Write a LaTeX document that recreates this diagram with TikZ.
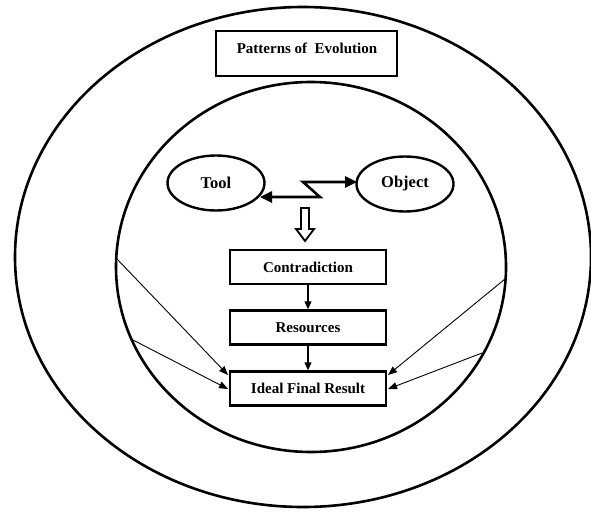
\documentclass[tikz,border=0pt]{standalone}
\usepackage{fontspec}
\setmainfont{Liberation Serif}
\usetikzlibrary{arrows.meta,shapes.geometric}
\begin{document}
\begin{tikzpicture}[x=1pt,y=-1pt,
  ring/.style={line width=2.6pt},
  stepbox/.style={draw,line width=2.4pt,minimum width=156pt,minimum height=34pt,inner sep=0pt,font=\fontsize{15}{17}\selectfont\bfseries},
  party/.style={draw,ellipse,line width=2.4pt,minimum width=97pt,minimum height=55pt,inner sep=0pt,font=\fontsize{16.5}{18}\selectfont\bfseries},
  flow/.style={line width=1.2pt,-{Triangle[length=8pt,width=7pt]}},
  feed/.style={line width=0.9pt,-{Triangle[length=9pt,width=7pt]}},
  zig/.style={line width=2.6pt,{Triangle[length=12pt,width=11pt]}-{Triangle[length=12pt,width=11pt]}}]
\useasboundingbox (0,0) rectangle (591,511);
\fill[white] (0,0) rectangle (591,511);
% rings
\draw[ring] (303,257) ellipse [x radius=288, y radius=250];
\draw[ring] (311,267) ellipse [x radius=195, y radius=185];
% top box
\node[draw,line width=2.4pt,minimum width=181pt,minimum height=45pt,inner sep=0pt] (pat) at (306.5,53.5) {};
\node[font=\fontsize{15}{17}\selectfont\bfseries] (pattxt) at (307,48) {Patterns of\ \ Evolution};
% tool / object
\node[party] (tool) at (216,183) {Tool};
\node[party] (obj) at (405,184) {Object};
\coordinate (za) at (260,197);
\coordinate (zb) at (320,197);
\coordinate (zc) at (303,182);
\coordinate (zd) at (357,182);
\draw[zig,line join=miter] (za) -- (zb) -- (zc) -- (zd);
% hollow arrow
\coordinate (ha) at (305,208);
\draw[line width=1.8pt,fill=white,line join=miter] (301,208) -- (309,208) -- (309,229) -- (314,229) -- (305,241) -- (296,229) -- (301,229) -- cycle;
% boxes
\node[stepbox] (con) at (308,267) {Contradiction};
\node[stepbox] (res) at (308,327.5) {Resources};
\node[stepbox] (ifr) at (308,388.5) {Ideal Final Result};
\draw[flow] (con) -- (res);
\draw[flow] (res) -- (ifr);
% feeds
\coordinate (l1) at (117,259);
\coordinate (l2) at (133,340);
\coordinate (r1) at (505,279);
\coordinate (r2) at (482,353);
\coordinate (tl1) at (228,375);
\coordinate (tl2) at (228,389);
\coordinate (tr1) at (388,375);
\coordinate (tr2) at (388,389);
\draw[feed] (l1) -- (tl1);
\draw[feed] (l2) -- (tl2);
\draw[feed] (r1) -- (tr1);
\draw[feed] (r2) -- (tr2);
\end{tikzpicture}
\end{document}
